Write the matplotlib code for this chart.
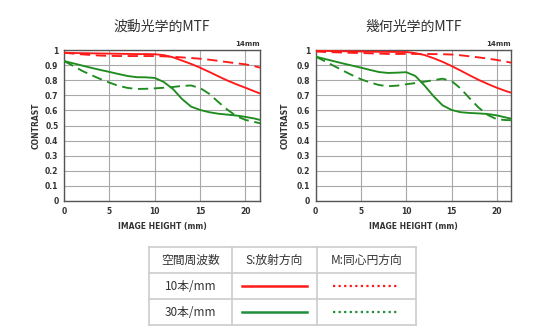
import matplotlib
matplotlib.use("Agg")
import matplotlib.pyplot as plt

plt.rcParams['font.family'] = ['Noto Sans CJK JP', 'DejaVu Sans']

# ---- data ----
titles = ["波動光学的MTF", "幾何光学的MTF"]
focal = "14mm"
x_ticks = [0, 5, 10, 15, 20]
y_ticks = [0, 0.1, 0.2, 0.3, 0.4, 0.5, 0.6, 0.7, 0.8, 0.9, 1.0]
y_tick_labels = ["0", "0.1", "0.2", "0.3", "0.4", "0.5", "0.6", "0.7", "0.8", "0.9", "1"]

h = [0, 1, 2, 3, 4, 5, 6, 7, 8, 9, 10, 11, 12, 13, 14, 15, 16, 17, 18, 19, 20, 21, 21.6]

# wave-optical MTF
w_10_s = [0.982, 0.980, 0.979, 0.978, 0.977, 0.976, 0.975, 0.974, 0.973, 0.973, 0.972, 0.966, 0.952, 0.930, 0.908, 0.883, 0.855, 0.826, 0.798, 0.773, 0.750, 0.726, 0.712]
w_10_m = [0.982, 0.976, 0.971, 0.967, 0.963, 0.961, 0.960, 0.960, 0.960, 0.960, 0.960, 0.958, 0.955, 0.951, 0.947, 0.942, 0.936, 0.928, 0.920, 0.912, 0.905, 0.893, 0.883]
w_30_s = [0.927, 0.912, 0.897, 0.882, 0.868, 0.855, 0.841, 0.828, 0.820, 0.819, 0.815, 0.788, 0.742, 0.676, 0.625, 0.603, 0.588, 0.578, 0.572, 0.566, 0.557, 0.546, 0.537]
w_30_m = [0.927, 0.895, 0.862, 0.834, 0.808, 0.784, 0.763, 0.749, 0.742, 0.743, 0.746, 0.750, 0.755, 0.762, 0.765, 0.748, 0.710, 0.656, 0.605, 0.562, 0.537, 0.523, 0.515]

# geometric MTF
g_10_s = [0.995, 0.994, 0.993, 0.992, 0.991, 0.990, 0.989, 0.988, 0.988, 0.987, 0.987, 0.979, 0.967, 0.946, 0.922, 0.894, 0.864, 0.832, 0.802, 0.775, 0.750, 0.728, 0.717]
g_10_m = [0.990, 0.987, 0.985, 0.983, 0.981, 0.980, 0.978, 0.976, 0.974, 0.974, 0.974, 0.974, 0.974, 0.973, 0.972, 0.970, 0.965, 0.958, 0.951, 0.943, 0.934, 0.923, 0.916]
g_30_s = [0.956, 0.941, 0.926, 0.911, 0.897, 0.883, 0.868, 0.854, 0.848, 0.850, 0.853, 0.828, 0.766, 0.695, 0.634, 0.603, 0.588, 0.583, 0.580, 0.576, 0.567, 0.553, 0.545]
g_30_m = [0.956, 0.926, 0.895, 0.864, 0.834, 0.806, 0.785, 0.768, 0.760, 0.764, 0.773, 0.781, 0.790, 0.800, 0.810, 0.795, 0.745, 0.680, 0.618, 0.570, 0.541, 0.536, 0.535]

panels = [
    (w_10_s, w_10_m, w_30_s, w_30_m),
    (g_10_s, g_10_m, g_30_s, g_30_m),
]

table_header = ["空間周波数", "S:放射方向", "M:同心円方向"]
table_rows = ["10本/mm", "30本/mm"]

RED = "#ff1a1a"
GREEN = "#1f8c1f"
GRID = "#a8a8a8"
TXT = "#333333"

W, H = 550, 335
fig = plt.figure(figsize=(W / 100, H / 100), dpi=100)

def px_rect(x0, y0, x1, y1):
    return [x0 / W, 1 - y1 / H, (x1 - x0) / W, (y1 - y0) / H]

ax_boxes = [(64, 50, 260, 201), (315.7, 50, 511.3, 201)]
ylabel_x = [36, 285]

for i, (box, data) in enumerate(zip(ax_boxes, panels)):
    ax = fig.add_axes(px_rect(*box))
    s10, m10, s30, m30 = data
    dash = (0, (5.5, 3.0))
    ax.plot(h, s10, color=RED, lw=1.35, zorder=3)
    ax.plot(h, m10, color=RED, lw=1.35, linestyle=dash, zorder=3)
    ax.plot(h, s30, color=GREEN, lw=1.35, zorder=3)
    ax.plot(h, m30, color=GREEN, lw=1.35, linestyle=dash, zorder=3)
    ax.set_xlim(0, 21.6)
    ax.set_ylim(0, 1.0)
    ax.set_xticks(x_ticks)
    ax.set_yticks(y_ticks)
    ax.set_yticklabels(y_tick_labels)
    ax.grid(True, color=GRID, lw=0.8)
    ax.tick_params(length=0, labelsize=5.5, colors=TXT, pad=4)
    for lab in ax.get_xticklabels() + ax.get_yticklabels():
        lab.set_fontfamily('DejaVu Sans')
        lab.set_fontweight('bold')
    for sp in ax.spines.values():
        sp.set_color('#555555')
        sp.set_linewidth(1.0)
    ax.set_xlabel("IMAGE HEIGHT (mm)", fontsize=5.5, fontweight='bold', color=TXT,
                  family='DejaVu Sans', labelpad=5)
    ax.set_title(titles[i], fontsize=10, color=TXT, pad=14)
    ax.text(1.0, 1.02, focal, transform=ax.transAxes, ha='right', va='bottom',
            fontsize=5, fontweight='bold', color=TXT, family='DejaVu Sans')
    fig.text(ylabel_x[i] / W, 1 - 125.5 / H, "CONTRAST", rotation=90, ha='center', va='center',
             fontsize=5.5, fontweight='bold', color=TXT, family='DejaVu Sans')

# ---- table legend ----
tab = fig.add_axes([0, 0, 1, 1])
tab.set_xlim(0, W)
tab.set_ylim(H, 0)
tab.axis('off')
cols = [149, 232, 317, 416]
rows = [247, 273, 299, 325]
BORDER = "#cccccc"
for x in cols:
    tab.plot([x, x], [rows[0], rows[-1]], color=BORDER, lw=1.2)
for y in rows:
    tab.plot([cols[0], cols[-1]], [y, y], color=BORDER, lw=1.2)
for j, t in enumerate(table_header):
    tab.text((cols[j] + cols[j + 1]) / 2, (rows[0] + rows[1]) / 2, t, ha='center', va='center',
             fontsize=8.5, color=TXT)
for r, (t, c) in enumerate(zip(table_rows, [RED, "#1e8f3a"])):
    yc = (rows[r + 1] + rows[r + 2]) / 2
    tab.text((cols[0] + cols[1]) / 2, yc, t, ha='center', va='center', fontsize=8.5, color=TXT)
    tab.plot([242, 307], [yc, yc], color=c, lw=1.8)
    tab.plot([333, 398], [yc, yc], color=c, lw=1.6, linestyle=(0, (1, 1.5)))

fig.savefig("out.png", dpi=100)
